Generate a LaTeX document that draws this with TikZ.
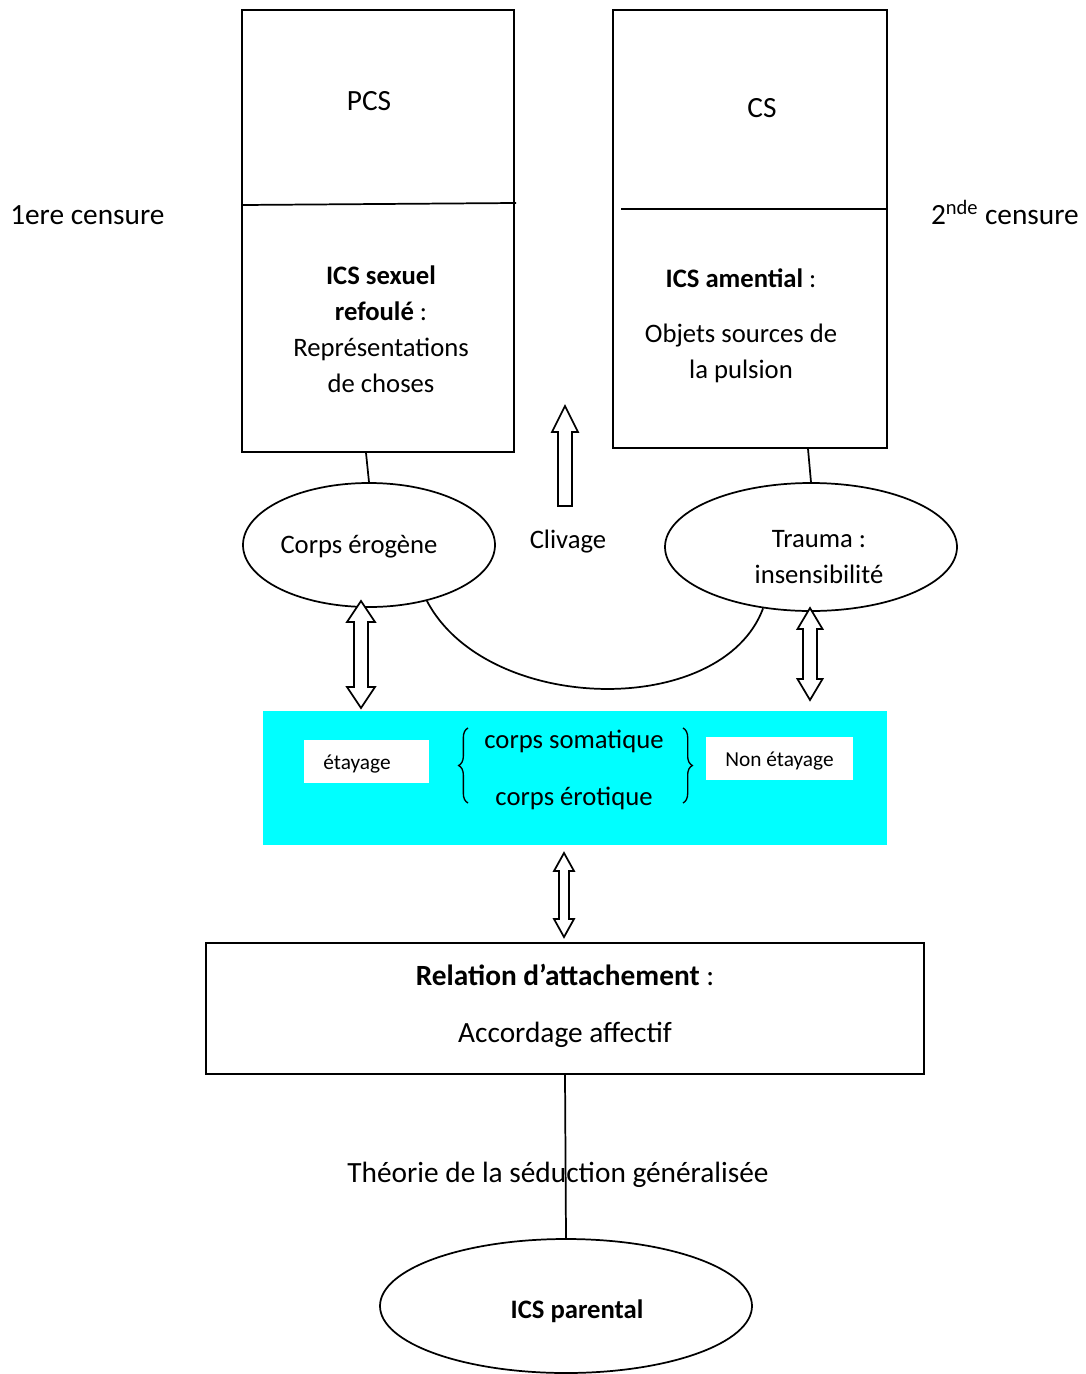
\documentclass[tikz,border=0pt]{standalone}
\usepackage{fontspec}
\setmainfont{Carlito}
\usetikzlibrary{shapes.geometric,decorations.pathreplacing}
\definecolor{aqua}{RGB}{0,255,255}
\newcommand\fatdbl[6]{% x, ytop, ybot, half shaft, half head, head length
  \draw[fat] (#1,#2) -- ({#1+#5},{#2+#6}) -- ({#1+#4},{#2+#6}) -- ({#1+#4},{#3-#6}) -- ({#1+#5},{#3-#6}) -- (#1,#3)
    -- ({#1-#5},{#3-#6}) -- ({#1-#4},{#3-#6}) -- ({#1-#4},{#2+#6}) -- ({#1-#5},{#2+#6}) -- cycle;}
\newcommand\fatup[6]{%
  \draw[fat] (#1,#2) -- ({#1+#5},{#2+#6}) -- ({#1+#4},{#2+#6}) -- ({#1+#4},#3) -- ({#1-#4},#3)
    -- ({#1-#4},{#2+#6}) -- ({#1-#5},{#2+#6}) -- cycle;}
\begin{document}
\begin{tikzpicture}[x=0.75pt,y=-0.75pt,
  lw/.style={line width=1.3pt},
  box/.style={draw,lw,inner sep=0pt},
  oval/.style={draw,lw,ellipse,inner sep=0pt},
  txt/.style={inner sep=0pt,font=\fontsize{20}{27}\selectfont,align=center},
  big/.style={inner sep=0pt,font=\fontsize{22}{27}\selectfont,align=center},
  small/.style={inner sep=0pt,font=\fontsize{16}{20}\selectfont},
  fat/.style={draw,lw,fill=white,line join=miter},
  brc/.style={draw,line width=1pt,decorate,decoration={brace,amplitude=7pt}}]
\useasboundingbox (0,0) rectangle (1085,1374);

% top boxes
\node[box,minimum width=204pt,minimum height=331.5pt] (PCS) at (378,231) {};
\draw[lw] (242,205) -- (516,203);
\node[big] (pcst) at (369,101) {PCS};
\node[txt] (pcsl) at (381,329) {\textbf{ICS sexuel}\\\textbf{refoulé} :\\Représentations\\de choses};

\node[box,minimum width=205.5pt,minimum height=328.5pt] (CS) at (750,229) {};
\draw[lw] (621,209) -- (887,209);
\node[big] (cst) at (762,108) {CS};
\node[txt] (csa) at (741,278) {\textbf{ICS amential} :};
\node[txt] (csb) at (741,353) {Objets sources de\\la pulsion};

\node[big,anchor=west] (c1) at (10,215) {1ere censure};
\node[big,anchor=east] (c2) at (1079,212) {2\textsuperscript{nde} censure};

% ellipses
\node[oval,minimum width=189pt,minimum height=93pt] (ero) at (369,545) {};
\node[txt] at (359,547) {Corps érogène};
\node[oval,minimum width=219pt,minimum height=96pt] (trauma) at (811,547) {};
\node[txt] at (819,557) {Trauma :\\insensibilité};

\draw[lw] ([xshift=-9pt]PCS.south) -- (ero.north);
\draw[lw] ([xshift=43.5pt]CS.south) -- (trauma.north);

\draw[lw] (ero.-44) .. controls (487,715) and (722,719) .. (trauma.-128);

% clivage
\fatup{565}{406}{506}{7}{13}{26}
\node[txt] (cliv) at (568,542) {Clivage};

% cyan band
\node[inner sep=0pt,fill=aqua,minimum width=468pt,minimum height=100.5pt] (band) at (575,778) {};
\node[fill=white,inner sep=0pt,minimum width=93.75pt,minimum height=32.25pt] (eta) at (366.5,761.5) {};
\node[small] (etat) at (357,764) {étayage};
\node[fill=white,inner sep=0pt,minimum width=110.25pt,minimum height=32.25pt] (neta) at (779.5,758.5) {};
\node[small] (netat) at (779.5,761) {Non étayage};
\node[txt] (som) at (574,741) {corps somatique};
\node[txt] (ero2) at (574,798) {corps érotique};
\draw[brc] (468,803) -- (468,728);
\draw[brc] (683,728) -- (683,803);

% double arrows
\fatdbl{361}{601}{708}{7}{14}{21}
\fatdbl{810}{608}{700}{7}{12.5}{21}
\fatdbl{564}{853}{937}{5}{10}{18}

% relation box
\node[box,minimum width=538.5pt,minimum height=98.25pt] (rel) at (565,1008.5) {};
\node[big] (rela) at (565,975) {\textbf{Relation d’attachement} :};
\node[big] (relb) at (565,1035) {Accordage affectif};

\node[oval,minimum width=279pt,minimum height=100.5pt] (par) at (566,1306) {};
\node[txt] (part) at (577,1311) {\textbf{ICS parental}};
\draw[lw] (rel.south) -- (par.north);
\node[big] (theo) at (558,1175) {Théorie de la séduction généralisée};
\end{tikzpicture}
\end{document}
